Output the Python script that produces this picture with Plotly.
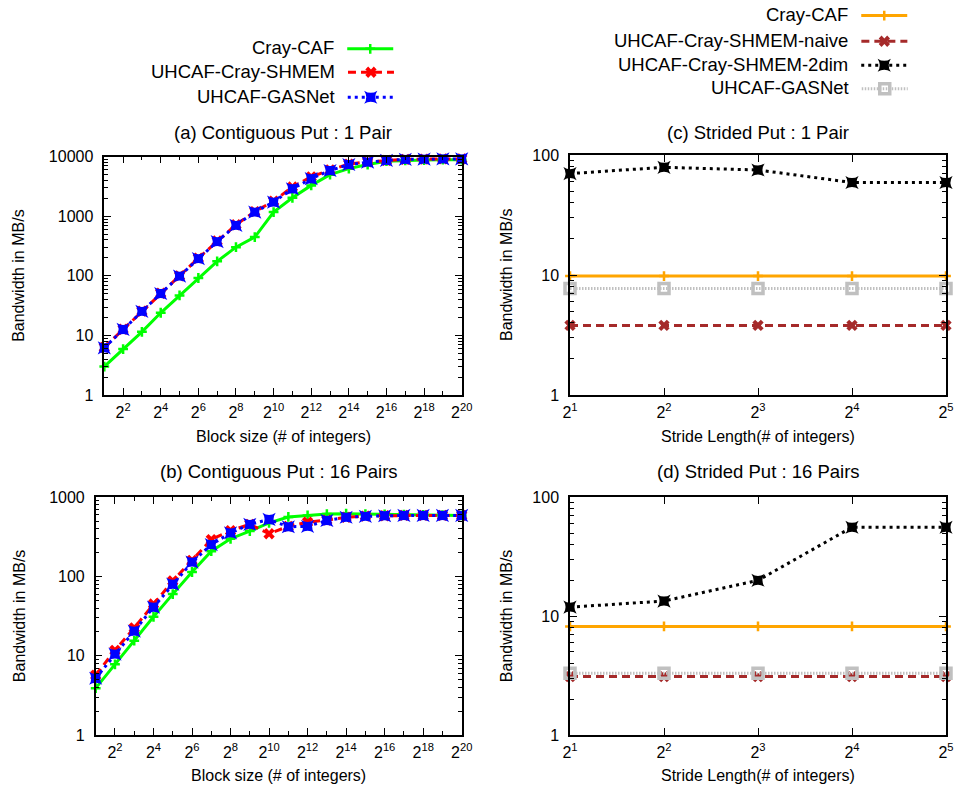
import math
import plotly.graph_objects as go

FONT = "Liberation Sans, Arial, Helvetica, sans-serif"
W, H = 957, 788

# ---------------- data ----------------
block_sizes = [2, 4, 8, 16, 32, 64, 128, 256, 512, 1024, 2048, 4096, 8192,
               16384, 32768, 65536, 131072, 262144, 524288, 1048576]
block_exps = list(range(1, 21))

# (a) Contiguous Put : 1 Pair
cray_a = [3.0, 5.9, 11.5, 24, 47, 92, 175, 303, 447, 1175, 2040, 3300, 5000,
          6300, 7400, 8400, 8700, 8800, 8900, 8900]
shmem_a = [6.3, 12.7, 25.5, 51, 100, 198, 385, 720, 1200, 1800, 3100, 4600,
           6000, 7500, 8200, 8700, 9000, 9100, 9200, 9200]
gasnet_a = [6.2, 12.6, 25.3, 50.6, 99, 195, 375, 705, 1175, 1730, 2900, 4270,
            5870, 7400, 8100, 8700, 9000, 9100, 9200, 9200]

# (b) Contiguous Put : 16 Pairs
cray_b = [3.9, 7.8, 15.5, 31, 60, 114, 209, 300, 375, 475, 565, 590, 615,
          620, 615, 610, 605, 600, 595, 590]
shmem_b = [5.7, 11.7, 22.5, 45, 88, 160, 293, 380, 455, 347, 430, 485, 515,
           560, 580, 585, 590, 590, 590, 590]
gasnet_b = [5.2, 10.5, 20.5, 41, 80, 152, 253, 355, 455, 525, 425, 430, 510,
            560, 575, 585, 590, 590, 590, 590]

# (c) / (d) Strided Put
strides = [2, 4, 8, 16, 32]
stride_exps = [1, 2, 3, 4, 5]
cray_c = [9.8, 9.8, 9.8, 9.8, 9.8]
naive_c = [3.8, 3.8, 3.8, 3.8, 3.8]
twodim_c = [70, 79, 75, 59, 59]
gasnet_c = [7.7, 7.7, 7.7, 7.7, 7.7]

cray_d = [8.2, 8.2, 8.2, 8.2, 8.2]
naive_d = [3.1, 3.1, 3.1, 3.1, 3.1]
twodim_d = [11.9, 13.4, 20, 56, 56]
gasnet_d = [3.3, 3.3, 3.3, 3.3, 3.3]

left_names = ["Cray-CAF", "UHCAF-Cray-SHMEM", "UHCAF-GASNet"]
right_names = ["Cray-CAF", "UHCAF-Cray-SHMEM-naive", "UHCAF-Cray-SHMEM-2dim", "UHCAF-GASNet"]


def px(x):
    return x / W


def py(y):
    return 1 - y / H


# ---------------- styles ----------------
st_left = [
    dict(line=dict(color="#00ff00", width=3), marker=dict(symbol="cross-thin", size=7, color="#00ff00", line=dict(color="#00ff00", width=2.5))),
    dict(line=dict(color="#ff0000", width=3, dash="8px,5px"), marker=dict(symbol="x", size=10, color="#ff0000")),
    dict(line=dict(color="#0000ff", width=3, dash="3px,4px"), marker=dict(symbol="star-square", size=12, color="#0000ff")),
]
st_right = [
    dict(line=dict(color="#ffa500", width=3), marker=dict(symbol="cross-thin", size=7, color="#ffa500", line=dict(color="#ffa500", width=2.5))),
    dict(line=dict(color="#a52a2a", width=3, dash="8px,5px"), marker=dict(symbol="x", size=10, color="#a52a2a")),
    dict(line=dict(color="#000000", width=3, dash="3px,4px"), marker=dict(symbol="star-square", size=12, color="#000000")),
    dict(line=dict(color="#c0c0c0", width=3, dash="1.5px,1.5px"), marker=dict(symbol="square-open", size=10, color="#c0c0c0", line=dict(color="#c0c0c0", width=3.5))),
]

fig = go.Figure()

left_legends = ["legend", "legend2", "legend3"]
right_legends = ["legend4", "legend5", "legend6", "legend7"]

# panel a
for i, ys in enumerate([cray_a, shmem_a, gasnet_a]):
    fig.add_trace(go.Scatter(x=block_sizes, y=ys, mode="lines+markers", name="",
                             hovertemplate=left_names[i] + ": %{y}<extra></extra>",
                             xaxis="x", yaxis="y", legend=left_legends[i], showlegend=True,
                             cliponaxis=False, **st_left[i]))
# panel b
for i, ys in enumerate([cray_b, shmem_b, gasnet_b]):
    fig.add_trace(go.Scatter(x=block_sizes, y=ys, mode="lines+markers", name=left_names[i],
                             xaxis="x2", yaxis="y2", showlegend=False, cliponaxis=False, **st_left[i]))
# panel c
for i, ys in enumerate([cray_c, naive_c, twodim_c, gasnet_c]):
    fig.add_trace(go.Scatter(x=strides, y=ys, mode="lines+markers", name="",
                             hovertemplate=right_names[i] + ": %{y}<extra></extra>",
                             xaxis="x3", yaxis="y3", legend=right_legends[i], showlegend=True,
                             cliponaxis=False, **st_right[i]))
# panel d
for i, ys in enumerate([cray_d, naive_d, twodim_d, gasnet_d]):
    fig.add_trace(go.Scatter(x=strides, y=ys, mode="lines+markers", name=right_names[i],
                             xaxis="x4", yaxis="y4", showlegend=False, cliponaxis=False, **st_right[i]))

# ---------------- axes ----------------
tickfont = dict(family=FONT, size=16, color="black")
minor_y = [m * 10 ** k for k in range(0, 4) for m in range(2, 10)]


def xcfg(dom, anchor, vals, exps, labelled, minor_vals):
    return dict(type="log", domain=[px(dom[0]), px(dom[1])], anchor=anchor, automargin=False,
                range=[math.log10(vals[0]) - 1e-9, math.log10(vals[-1]) + 1e-9],
                tickmode="array",
                tickvals=[v for v, e in zip(vals, exps) if e in labelled],
                ticktext=["2<sup>%d</sup>" % e for e in exps if e in labelled],
                ticks="inside", ticklen=7, tickwidth=1, tickcolor="black",
                showline=True, linecolor="black", linewidth=1.5, mirror="ticks",
                showgrid=False, zeroline=False, tickfont=tickfont, ticklabelstandoff=2,
                minor=dict(tickvals=minor_vals, ticks="inside", ticklen=4, tickcolor="black", showgrid=False))


def ycfg(dom, anchor, top):
    vals = [10 ** k for k in range(0, top + 1)]
    return dict(type="log", domain=[py(dom[1]), py(dom[0])], anchor=anchor, automargin=False,
                range=[0, top], tickmode="array", tickvals=vals, ticktext=[str(v) for v in vals],
                ticks="inside", ticklen=7, tickwidth=1, tickcolor="black",
                showline=True, linecolor="black", linewidth=1.5, mirror="ticks",
                showgrid=False, zeroline=False, tickfont=tickfont, ticklabelstandoff=6,
                minor=dict(tickvals=[v for v in minor_y if v < 10 ** top], ticks="inside", ticklen=4,
                           tickcolor="black", showgrid=False))


even = [e for e in block_exps if e % 2 == 0]
odd_vals = [v for v, e in zip(block_sizes, block_exps) if e % 2 == 1]

A = dict(x=(104.3, 461.7), y=(156.7, 395))
B = dict(x=(95.7, 461.7), y=(497.3, 735))
C = dict(x=(570, 946), y=(155, 395))
D = dict(x=(570, 946), y=(497.3, 735))

fig.update_layout(
    xaxis=xcfg(A["x"], "y", block_sizes, block_exps, even, odd_vals),
    yaxis=ycfg(A["y"], "x", 4),
    xaxis2=xcfg(B["x"], "y2", block_sizes, block_exps, even, odd_vals),
    yaxis2=ycfg(B["y"], "x2", 3),
    xaxis3=xcfg(C["x"], "y3", strides, stride_exps, stride_exps, []),
    yaxis3=ycfg(C["y"], "x3", 2),
    xaxis4=xcfg(D["x"], "y4", strides, stride_exps, stride_exps, []),
    yaxis4=ycfg(D["y"], "x4", 2),
)

# ---------------- legends (text left, sample right) ----------------
left_rows = [49.3, 72.7, 97.7]
right_rows = [16, 41.7, 65.7, 89.3]
leg = {}
for i, name in enumerate(left_names):
    leg[left_legends[i]] = dict(x=px(404), y=py(left_rows[i]), xanchor="right", yanchor="middle",
                                bgcolor="rgba(0,0,0,0)", borderwidth=0, itemwidth=46,
                                font=dict(family=FONT, size=18.5, color="black"),
                                title=dict(text=name, side="left", font=dict(family=FONT, size=18.5, color="black")))
for i, name in enumerate(right_names):
    leg[right_legends[i]] = dict(x=px(918), y=py(right_rows[i]), xanchor="right", yanchor="middle",
                                 bgcolor="rgba(0,0,0,0)", borderwidth=0, itemwidth=46,
                                 font=dict(family=FONT, size=18.5, color="black"),
                                 title=dict(text=name, side="left", font=dict(family=FONT, size=18.5, color="black")))
fig.update_layout(**leg)

# ---------------- titles ----------------
ann = []
titles = [("(a) Contiguous Put : 1 Pair", A, 133), ("(b) Contiguous Put : 16 Pairs", B, 471.7),
          ("(c) Strided Put : 1 Pair", C, 133), ("(d) Strided Put : 16 Pairs", D, 471.7)]
for t, P, yy in titles:
    ann.append(dict(text=t, x=px((P["x"][0] + P["x"][1]) / 2), y=py(yy), xref="paper", yref="paper",
                    showarrow=False, xanchor="center", yanchor="middle",
                    font=dict(family=FONT, size=18.5, color="black")))
xtitles = [("Block size (# of integers)", A, 436.7), ("Block size (# of integers)", B, 775),
           ("Stride Length(# of integers)", C, 436.7), ("Stride Length(# of integers)", D, 775)]
for t, P, yy in xtitles:
    ann.append(dict(text=t, x=px((P["x"][0] + P["x"][1]) / 2), y=py(yy), xref="paper", yref="paper",
                    showarrow=False, xanchor="center", yanchor="middle",
                    font=dict(family=FONT, size=16, color="black")))
for P, xx in [(A, 19), (B, 19), (C, 506), (D, 506)]:
    ann.append(dict(text="Bandwidth in MB/s", x=px(xx), y=py((P["y"][0] + P["y"][1]) / 2),
                    xref="paper", yref="paper", showarrow=False, textangle=-90,
                    xanchor="center", yanchor="middle",
                    font=dict(family=FONT, size=16, color="black")))

fig.update_layout(
    annotations=ann,
    width=W, height=H,
    margin=dict(l=0, r=0, t=0, b=0, autoexpand=False),
    paper_bgcolor="white", plot_bgcolor="white",
    font=dict(family=FONT, size=16, color="black"),
    showlegend=True,
)

fig.write_html("out.html", config={"displayModeBar": False},
               post_script="document.body.style.margin='0';document.body.style.padding='0';"
                           "document.body.style.overflow='hidden';")
